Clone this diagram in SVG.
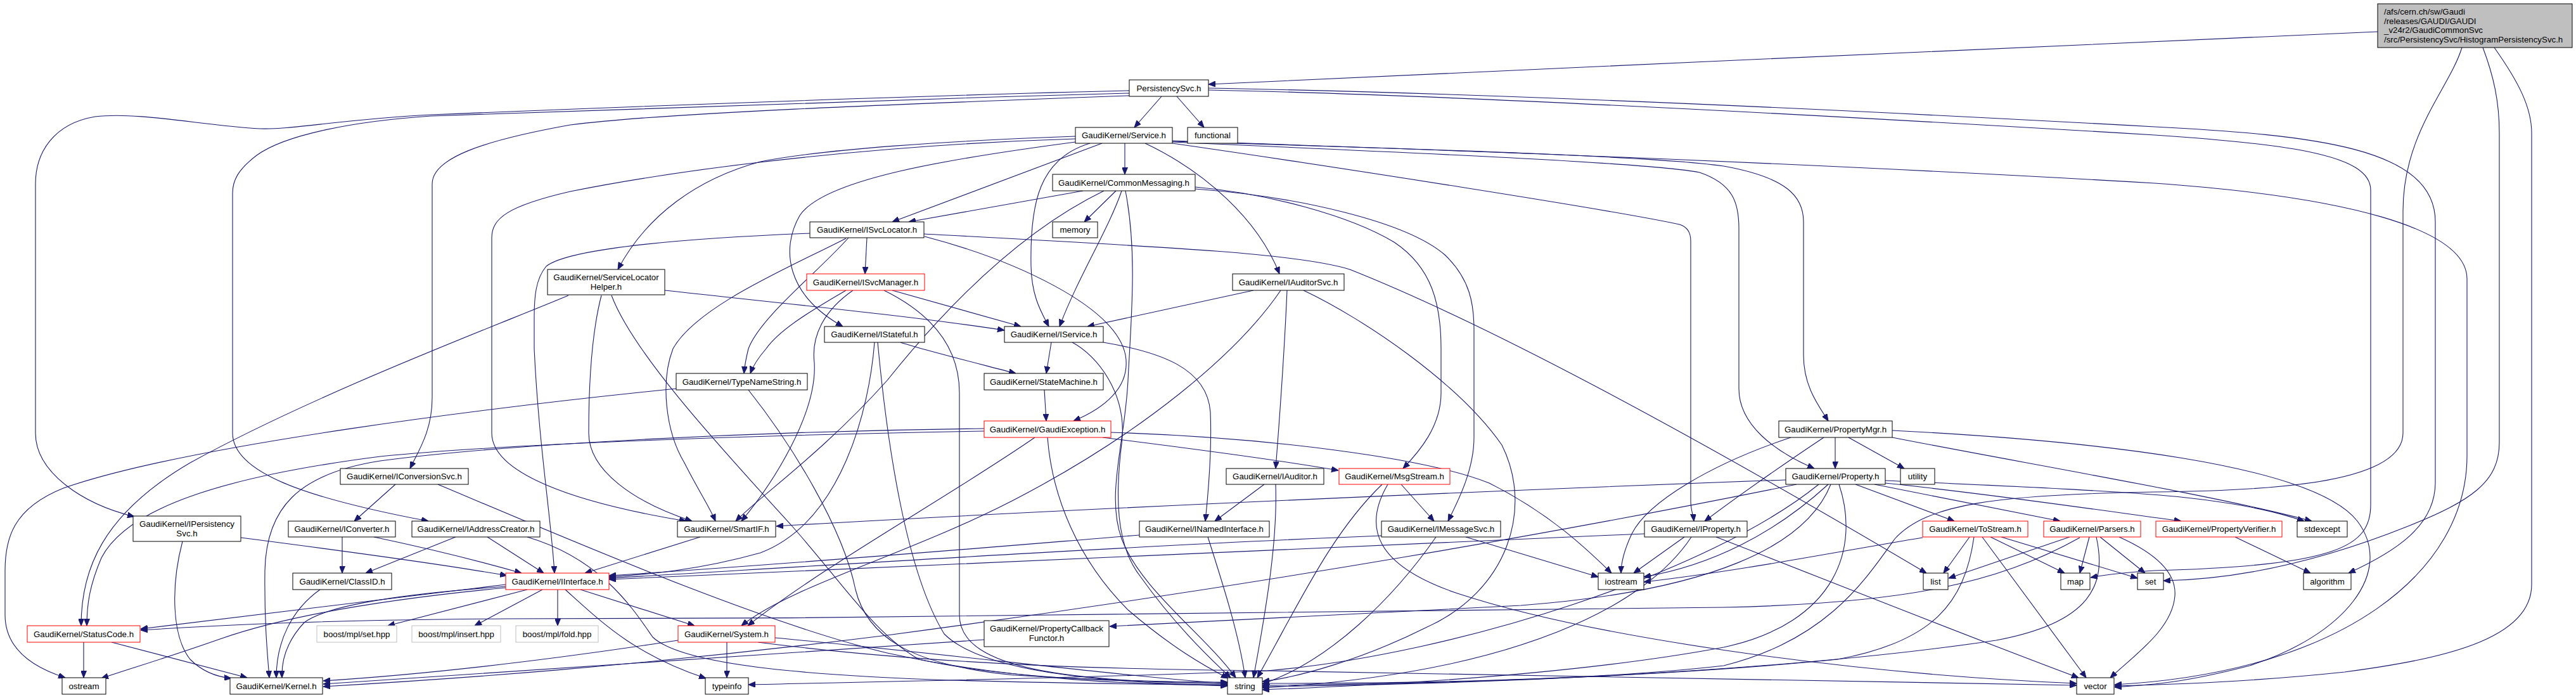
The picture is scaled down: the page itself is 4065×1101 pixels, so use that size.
<svg xmlns="http://www.w3.org/2000/svg" width="4065" height="1101" viewBox="0 0 4065 1101">
<defs>
<marker id="a" markerWidth="11" markerHeight="9" viewBox="0 0 11 9" refX="11" refY="4.5" orient="auto" markerUnits="userSpaceOnUse"><path d="M0,0 L11,4.5 L0,9 z" fill="#191970" stroke="#191970"/></marker>
<style>
.e path{fill:none;stroke:#191970;stroke-width:1.1;marker-end:url(#a)}
.n rect{fill:#fff;stroke:#000;stroke-width:1}
.r rect{fill:#fff;stroke:#ff0000;stroke-width:1}
.g rect{fill:#fff;stroke:#bfbfbf;stroke-width:1}
.m rect{fill:#bfbfbf;stroke:#000;stroke-width:1}
text{font-family:"Liberation Sans",Arial,Helvetica,sans-serif;font-size:13.3px;fill:#000;text-anchor:middle}
.m text{text-anchor:start}
</style>
</defs>
<rect width="4065" height="1101" fill="#fff"/>
<g id="connectors" class="e">
<path d="M3752,50 C3200,75 2500,105 1907,133"/>
<path d="M3885,75 C3865,140 3792,210 3792,333 L3792,683 C3792,760 3600,774 3400,776 C3150,780 3040,795 2990,850 C2940,920 2880,1010 2720,1050 C2500,1075 2200,1078 1992,1078"/>
<path d="M3918,75 C3935,120 3944,160 3944,210 L3944,698 C3944,760 3900,790 3800,830 C3650,890 3520,914 3414,916"/>
<path d="M3936,75 C3975,130 3995,170 3995,210 L3995,922 C3995,1010 3850,1040 3700,1060 C3550,1076 3420,1080 3337,1082"/>
<path d="M1833,152 L1790,201"/>
<path d="M1857,152 L1900,201"/>
<path d="M1782,143 C1400,152 1000,168 680,181 C540,188 460,205 410,203 C320,198 220,176 150,184 C85,195 56,240 56,290 L56,683 C56,745 130,795 212,815"/>
<path d="M1782,147 C1400,157 1000,172 680,183 C560,191 450,212 405,245 C375,268 367,285 367,305 L367,683 C367,745 480,785 676,822"/>
<path d="M1782,151 C1400,165 1050,178 900,197 C760,222 682,250 682,290 L682,627 C682,680 660,712 647,739"/>
<path d="M1907,142 C2300,150 2900,183 3400,213 C3620,228 3741,245 3741,300 L3741,796 C3741,862 3690,892 3400,900 C3350,903 3320,907 3299,911"/>
<path d="M1907,139 C2400,148 3000,178 3400,200 C3650,213 3843,232 3843,350 L3843,761 C3843,830 3780,870 3706,904"/>
<path d="M1775,226 L1775,275"/>
<path d="M1739,226 L1408,350"/>
<path d="M1720,226 C1640,250 1625,320 1627,420 C1628,470 1645,495 1655,515"/>
<path d="M1807,226 C1900,270 1985,345 2019,432"/>
<path d="M1697,215 C1500,222 1300,235 1200,255 C1100,282 1020,340 975,425"/>
<path d="M1697,219 C1400,228 1100,262 900,302 C800,325 776,345 776,375 L776,683 C776,745 900,792 1083,822"/>
<path d="M1697,224 C1500,250 1300,282 1262,340 C1232,392 1240,465 1330,515"/>
<path d="M1850,222 C2200,234 2800,254 3400,289 C3700,310 3893,360 3893,440 L3893,719 C3893,900 3700,1060 3337,1080"/>
<path d="M1850,223 C2200,234 2600,245 2720,262 C2820,280 2846,310 2846,350 L2846,560 C2846,610 2870,640 2885,664"/>
<path d="M1850,224 C2200,240 2600,256 2682,272 C2735,290 2744,320 2744,360 L2744,613 C2744,670 2800,712 2863,739"/>
<path d="M1850,226 C2100,262 2550,332 2650,354 C2664,358 2668,368 2668,380 L2668,790 C2668,805 2672,812 2673,822"/>
<path d="M1709,301 L1434,350"/>
<path d="M1761,301 L1711,350"/>
<path d="M1770,301 C1750,360 1700,440 1672,515"/>
<path d="M1742,301 C1600,370 1480,500 1400,600 C1300,712 1200,782 1161,822"/>
<path d="M1886,295 C2000,305 2130,340 2200,382 C2260,422 2274,480 2274,550 L2274,620 C2274,672 2240,712 2214,739"/>
<path d="M1886,298 C2050,310 2220,350 2280,402 C2320,440 2326,480 2326,520 L2326,690 C2326,742 2300,792 2285,822"/>
<path d="M1776,301 C1795,400 1785,500 1780,600 C1775,700 1745,780 1770,850 C1800,930 1900,1000 1950,1069"/>
<path d="M1368,375 L1365,432"/>
<path d="M1278,368 C1100,375 900,390 862,420 C845,440 843,470 843,500 L843,550 C850,700 870,820 875,904"/>
<path d="M1339,375 C1290,430 1200,500 1181,550 C1177,566 1175,578 1174,589"/>
<path d="M1335,458 C1280,490 1230,520 1209,550 C1196,565 1188,578 1184,589"/>
<path d="M1335,376 C1250,420 1100,482 1062,550 C1042,602 1050,680 1080,730 C1100,770 1120,800 1129,822"/>
<path d="M1458,369 C1850,390 2050,400 2130,425 C2400,532 2800,762 3040,904"/>
<path d="M1459,373 C1600,410 1760,482 1776,560 C1785,612 1740,645 1694,664"/>
<path d="M1408,458 L1611,515"/>
<path d="M1346,458 C1300,490 1280,530 1285,572 C1290,652 1220,762 1170,822"/>
<path d="M1395,458 C1460,490 1514,540 1514,620 L1514,970 C1514,1060 1700,1074 1937,1079"/>
<path d="M1049,458 C1250,480 1450,500 1585,521"/>
<path d="M897,466 C780,515 500,620 300,730 C160,812 128,900 128,987"/>
<path d="M949,466 C935,520 929,600 929,683 C929,742 1000,792 1092,822"/>
<path d="M965,466 C1000,560 1150,720 1250,830 C1330,920 1380,1000 1450,1040 C1600,1073 1800,1076 1937,1076"/>
<path d="M1421,540 C1450,550 1530,570 1603,589"/>
<path d="M1380,540 C1372,642 1330,822 1200,872 C1100,900 1020,906 961,910"/>
<path d="M1385,540 C1400,702 1430,902 1490,1000 C1560,1070 1800,1077 1937,1082"/>
<path d="M1659,540 L1651,589"/>
<path d="M1692,540 C1730,560 1780,620 1770,700 C1760,780 1760,860 1800,910 C1850,980 1900,1030 1942,1069"/>
<path d="M1741,540 C1830,555 1905,580 1910,650 C1913,722 1905,792 1902,822"/>
<path d="M1978,458 L1716,515"/>
<path d="M2031,458 C2027,550 2020,650 2013,739"/>
<path d="M2021,458 C1950,562 1800,682 1620,778 C1450,870 1250,922 1170,987"/>
<path d="M2057,458 C2150,502 2300,602 2370,702 C2420,802 2380,932 2250,990 C2150,1040 2050,1068 1992,1075"/>
<path d="M1995,764 L1917,822"/>
<path d="M2013,764 C2016,850 2000,950 1978,1069"/>
<path d="M1798,844 C1600,860 1300,886 961,908"/>
<path d="M1906,847 C1930,922 1955,1000 1965,1069"/>
<path d="M1067,613 C800,640 300,700 100,770 C20,802 8,850 8,900 L8,970 C8,1022 50,1052 103,1069"/>
<path d="M1181,615 C1250,702 1330,832 1350,930 C1370,1012 1450,1050 1600,1065 C1750,1074 1850,1076 1937,1077"/>
<path d="M1648,615 L1651,664"/>
<path d="M1553,680 C1200,686 800,700 600,720 C350,752 200,802 160,880 C142,922 137,952 137,987"/>
<path d="M1553,676 C1200,680 800,700 600,727 C470,747 420,802 418,900 C417,982 422,1032 425,1069"/>
<path d="M1633,690 C1500,782 1300,892 1180,987"/>
<path d="M1653,690 C1660,782 1700,882 1780,962 C1850,1022 1900,1050 1938,1070"/>
<path d="M1753,682 C2000,690 2250,722 2350,762 C2450,812 2510,872 2543,904"/>
<path d="M1740,690 C1900,710 2020,726 2112,742"/>
<path d="M2211,764 L2263,822"/>
<path d="M2181,764 C2100,842 2050,952 1984,1069"/>
<path d="M2190,764 C2150,832 2170,892 2300,936 C2500,1002 2900,1062 3277,1078"/>
<path d="M2313,847 L2522,910"/>
<path d="M2266,847 C2200,942 2100,1042 1992,1079"/>
<path d="M2180,845 C1800,860 1300,892 961,912"/>
<path d="M2658,847 L2578,904"/>
<path d="M2669,847 C2600,952 2400,1062 1992,1085"/>
<path d="M2595,842 C2000,866 1400,896 961,914"/>
<path d="M2708,847 C2850,902 3100,1002 3280,1069"/>
<path d="M624,764 L559,822"/>
<path d="M691,764 C900,852 1200,982 1400,1030 C1600,1074 1800,1080 1937,1081"/>
<path d="M540,847 L540,904"/>
<path d="M590,847 C680,866 760,886 823,904"/>
<path d="M769,847 L858,904"/>
<path d="M719,847 L577,904"/>
<path d="M832,847 C950,882 1000,962 1030,1005 C1080,1052 1300,1066 1500,1073 C1700,1078 1850,1080 1937,1080"/>
<path d="M380,848 C550,870 700,890 800,908"/>
<path d="M288,854 C270,922 270,1002 300,1040 C320,1060 345,1068 365,1070"/>
<path d="M1105,847 L923,904"/>
<path d="M798,922 C600,946 400,970 222,992"/>
<path d="M798,927 C600,946 450,972 350,1007 C250,1042 200,1056 160,1070"/>
<path d="M798,925 C650,936 520,952 480,982 C452,1012 444,1042 445,1069"/>
<path d="M832,930 L612,987"/>
<path d="M856,930 L749,987"/>
<path d="M880,930 L880,987"/>
<path d="M916,930 L1096,987"/>
<path d="M892,930 C950,982 1000,1032 1114,1070"/>
<path d="M132,1013 L132,1069"/>
<path d="M176,1013 L390,1069"/>
<path d="M505,930 C460,962 436,1012 436,1069"/>
<path d="M1070,1010 C900,1036 700,1062 510,1074"/>
<path d="M1147,1013 L1147,1069"/>
<path d="M1223,1006 C1500,1032 1800,1070 1937,1078"/>
<path d="M1196,1013 C1500,1052 1800,1056 2000,1058 C2500,1066 3000,1073 3277,1081"/>
<path d="M1553,1009 C1200,1032 800,1062 510,1079"/>
<path d="M2818,757 C2400,772 1700,802 1225,830"/>
<path d="M2878,690 C2800,742 2730,792 2690,822"/>
<path d="M2835,764 C2500,832 2000,922 1400,1002 C1000,1052 700,1072 510,1083"/>
<path d="M2885,764 C2800,842 2700,892 2594,910"/>
<path d="M2889,764 C2850,862 2700,932 2400,955 C2100,972 1900,982 1751,988"/>
<path d="M2870,764 C2700,902 2300,1032 2000,1058 C1700,1070 1400,1075 1181,1080"/>
<path d="M2902,764 C2935,862 2900,982 2720,1021 C2500,1062 2200,1080 1992,1088"/>
<path d="M2928,764 L3084,822"/>
<path d="M2958,764 L3251,822"/>
<path d="M2975,762 C3150,780 3350,810 3442,822"/>
<path d="M2975,758 C3150,766 3350,774 3450,785 C3550,796 3600,810 3636,822"/>
<path d="M2896,690 L2896,739"/>
<path d="M2917,690 L3005,739"/>
<path d="M2986,690 C3200,732 3500,782 3648,822"/>
<path d="M2986,679 C3300,695 3650,732 3720,822 C3780,902 3700,1002 3550,1050 C3450,1076 3400,1080 3337,1084"/>
<path d="M2826,690 C2700,732 2600,792 2575,842 C2561,872 2558,890 2558,904"/>
<path d="M3108,847 L3067,904"/>
<path d="M3141,847 L3258,904"/>
<path d="M3158,847 L3373,912"/>
<path d="M3128,847 L3292,1069"/>
<path d="M3115,847 C3100,952 3050,1012 2900,1040 C2600,1070 2200,1080 1992,1081"/>
<path d="M3034,848 C2900,870 2750,900 2594,918"/>
<path d="M3266,847 L3075,912"/>
<path d="M3297,847 L3282,904"/>
<path d="M3314,847 L3385,904"/>
<path d="M3282,848 C3150,922 3000,952 2720,958 C2300,968 1500,975 800,976 C500,978 350,986 222,994"/>
<path d="M3308,847 C3325,922 3300,982 3150,1010 C2800,1062 2300,1080 1992,1083"/>
<path d="M3344,847 C3400,872 3435,902 3432,940 C3428,992 3370,1032 3330,1069"/>
<path d="M3527,847 L3646,904"/>
</g>
<g id="n_main" class="m"><rect x="3752" y="6" width="307" height="69"/><text x="3762" y="23">/afs/cern.ch/sw/Gaudi</text><text x="3762" y="37.7">/releases/GAUDI/GAUDI</text><text x="3762" y="52.4">_v24r2/GaudiCommonSvc</text><text x="3762" y="67">/src/PersistencySvc/HistogramPersistencySvc.h</text></g>
<g id="n_PersistencySvc" class="n"><rect x="1782" y="126" width="125" height="26"/><text x="1844.5" y="143.7">PersistencySvc.h</text></g>
<g id="n_Service" class="n"><rect x="1697" y="201" width="153" height="25"/><text x="1773.5" y="218.2">GaudiKernel/Service.h</text></g>
<g id="n_functional" class="n"><rect x="1874" y="201" width="79" height="25"/><text x="1913.5" y="218.2">functional</text></g>
<g id="n_CommonMessaging" class="n"><rect x="1661" y="275" width="225" height="26"/><text x="1773.5" y="292.7">GaudiKernel/CommonMessaging.h</text></g>
<g id="n_ISvcLocator" class="n"><rect x="1278" y="350" width="180" height="25"/><text x="1368" y="367.2">GaudiKernel/ISvcLocator.h</text></g>
<g id="n_memory" class="n"><rect x="1661" y="350" width="71" height="25"/><text x="1696.5" y="367.2">memory</text></g>
<g id="n_ServiceLocatorHelper" class="n"><rect x="864" y="425" width="185" height="40"/><text x="956.5" y="441.5">GaudiKernel/ServiceLocator</text><text x="956.5" y="456.5">Helper.h</text></g>
<g id="n_ISvcManager" class="r"><rect x="1273" y="432" width="186" height="26"/><text x="1366" y="449.7">GaudiKernel/ISvcManager.h</text></g>
<g id="n_IAuditorSvc" class="n"><rect x="1945" y="432" width="176" height="26"/><text x="2033" y="449.7">GaudiKernel/IAuditorSvc.h</text></g>
<g id="n_IStateful" class="n"><rect x="1301" y="515" width="158" height="25"/><text x="1380" y="532.2">GaudiKernel/IStateful.h</text></g>
<g id="n_IService" class="n"><rect x="1585" y="515" width="156" height="25"/><text x="1663" y="532.2">GaudiKernel/IService.h</text></g>
<g id="n_TypeNameString" class="n"><rect x="1067" y="589" width="207" height="26"/><text x="1170.5" y="606.7">GaudiKernel/TypeNameString.h</text></g>
<g id="n_StateMachine" class="n"><rect x="1553" y="589" width="188" height="26"/><text x="1647" y="606.7">GaudiKernel/StateMachine.h</text></g>
<g id="n_GaudiException" class="r"><rect x="1553" y="664" width="200" height="26"/><text x="1653" y="681.7">GaudiKernel/GaudiException.h</text></g>
<g id="n_IAuditor" class="n"><rect x="1935" y="739" width="154" height="25"/><text x="2012" y="756.2">GaudiKernel/IAuditor.h</text></g>
<g id="n_MsgStream" class="r"><rect x="2113" y="739" width="175" height="25"/><text x="2200.5" y="756.2">GaudiKernel/MsgStream.h</text></g>
<g id="n_PropertyMgr" class="n"><rect x="2807" y="664" width="179" height="26"/><text x="2896.5" y="681.7">GaudiKernel/PropertyMgr.h</text></g>
<g id="n_Property" class="n"><rect x="2818" y="739" width="157" height="25"/><text x="2896.5" y="756.2">GaudiKernel/Property.h</text></g>
<g id="n_utility" class="n"><rect x="2999" y="739" width="54" height="25"/><text x="3026" y="756.2">utility</text></g>
<g id="n_IConversionSvc" class="n"><rect x="537" y="739" width="202" height="25"/><text x="638" y="756.2">GaudiKernel/IConversionSvc.h</text></g>
<g id="n_IPersistencySvc" class="n"><rect x="210" y="814" width="170" height="40"/><text x="295" y="831">GaudiKernel/IPersistency</text><text x="295" y="845.5">Svc.h</text></g>
<g id="n_IConverter" class="n"><rect x="455" y="822" width="169" height="25"/><text x="539.5" y="839.2">GaudiKernel/IConverter.h</text></g>
<g id="n_IAddressCreator" class="n"><rect x="650" y="822" width="202" height="25"/><text x="751" y="839.2">GaudiKernel/IAddressCreator.h</text></g>
<g id="n_SmartIF" class="n"><rect x="1069" y="822" width="155" height="25"/><text x="1146.5" y="839.2">GaudiKernel/SmartIF.h</text></g>
<g id="n_INamedInterface" class="n"><rect x="1798" y="822" width="205" height="25"/><text x="1900.5" y="839.2">GaudiKernel/INamedInterface.h</text></g>
<g id="n_IMessageSvc" class="n"><rect x="2180" y="822" width="188" height="25"/><text x="2274" y="839.2">GaudiKernel/IMessageSvc.h</text></g>
<g id="n_IProperty" class="n"><rect x="2595" y="822" width="162" height="25"/><text x="2676" y="839.2">GaudiKernel/IProperty.h</text></g>
<g id="n_ToStream" class="r"><rect x="3034" y="822" width="166" height="25"/><text x="3117" y="839.2">GaudiKernel/ToStream.h</text></g>
<g id="n_Parsers" class="r"><rect x="3225" y="822" width="153" height="25"/><text x="3301.5" y="839.2">GaudiKernel/Parsers.h</text></g>
<g id="n_PropertyVerifier" class="r"><rect x="3402" y="822" width="199" height="25"/><text x="3501.5" y="839.2">GaudiKernel/PropertyVerifier.h</text></g>
<g id="n_stdexcept" class="n"><rect x="3625" y="822" width="79" height="25"/><text x="3664.5" y="839.2">stdexcept</text></g>
<g id="n_ClassID" class="n"><rect x="462" y="904" width="156" height="26"/><text x="540" y="921.7">GaudiKernel/ClassID.h</text></g>
<g id="n_IInterface" class="r"><rect x="798" y="904" width="163" height="26"/><text x="879.5" y="921.7">GaudiKernel/IInterface.h</text></g>
<g id="n_iostream" class="n"><rect x="2522" y="904" width="72" height="26"/><text x="2558" y="921.7">iostream</text></g>
<g id="n_list" class="n"><rect x="3035" y="904" width="39" height="26"/><text x="3054.5" y="921.7">list</text></g>
<g id="n_map" class="n"><rect x="3252" y="904" width="46" height="26"/><text x="3275" y="921.7">map</text></g>
<g id="n_set" class="n"><rect x="3373" y="904" width="41" height="26"/><text x="3393.5" y="921.7">set</text></g>
<g id="n_algorithm" class="n"><rect x="3635" y="904" width="75" height="26"/><text x="3672.5" y="921.7">algorithm</text></g>
<g id="n_StatusCode" class="r"><rect x="43" y="987" width="178" height="26"/><text x="132" y="1004.7">GaudiKernel/StatusCode.h</text></g>
<g id="n_boost_set" class="g"><rect x="500" y="987" width="126" height="26"/><text x="563" y="1004.7">boost/mpl/set.hpp</text></g>
<g id="n_boost_insert" class="g"><rect x="650" y="987" width="140" height="26"/><text x="720" y="1004.7">boost/mpl/insert.hpp</text></g>
<g id="n_boost_fold" class="g"><rect x="814" y="987" width="130" height="26"/><text x="879" y="1004.7">boost/mpl/fold.hpp</text></g>
<g id="n_System" class="r"><rect x="1070" y="987" width="153" height="26"/><text x="1146.5" y="1004.7">GaudiKernel/System.h</text></g>
<g id="n_PropertyCallbackFunctor" class="n"><rect x="1553" y="979" width="197" height="41"/><text x="1651.5" y="995.5">GaudiKernel/PropertyCallback</text><text x="1651.5" y="1011">Functor.h</text></g>
<g id="n_ostream" class="n"><rect x="98" y="1069" width="69" height="26"/><text x="132.5" y="1086.7">ostream</text></g>
<g id="n_Kernel" class="n"><rect x="363" y="1069" width="146" height="26"/><text x="436" y="1086.7">GaudiKernel/Kernel.h</text></g>
<g id="n_typeinfo" class="n"><rect x="1113" y="1069" width="68" height="26"/><text x="1147" y="1086.7">typeinfo</text></g>
<g id="n_string" class="n"><rect x="1937" y="1069" width="55" height="26"/><text x="1964.5" y="1086.7">string</text></g>
<g id="n_vector" class="n"><rect x="3277" y="1069" width="59" height="26"/><text x="3306.5" y="1086.7">vector</text></g>
</svg>
